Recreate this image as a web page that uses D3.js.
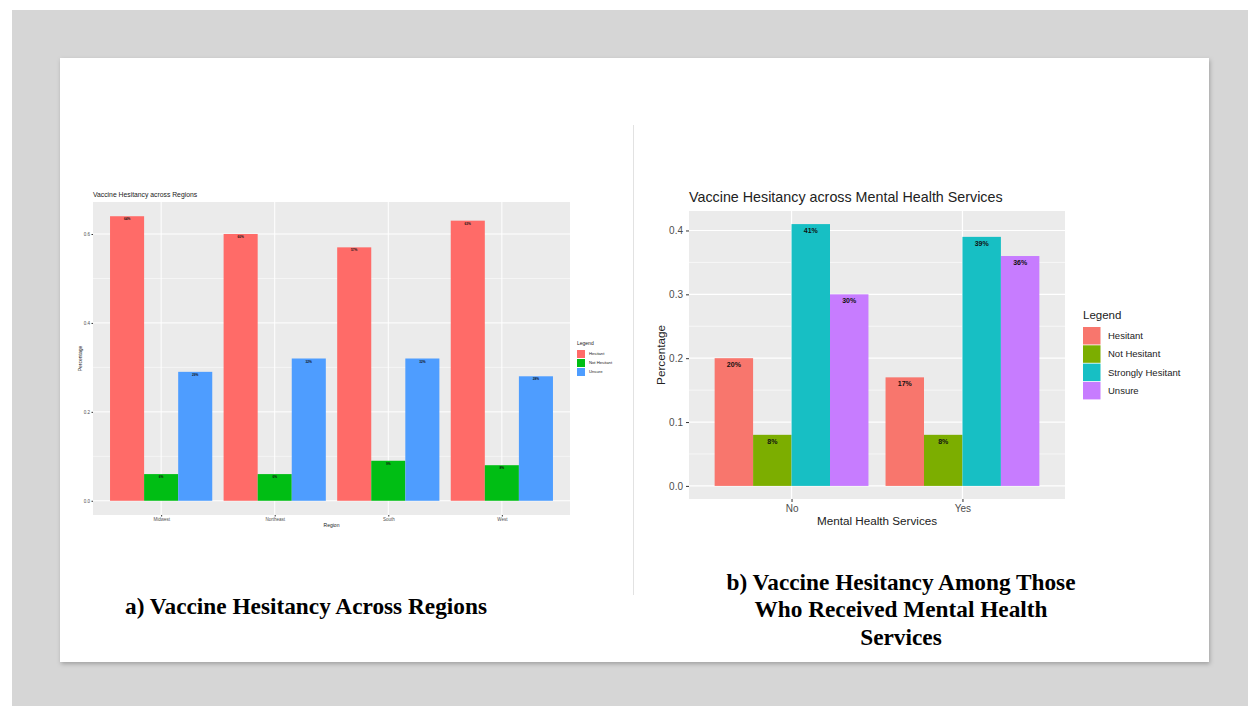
<!DOCTYPE html>
<html><head><meta charset="utf-8">
<script src="https://cdn.jsdelivr.net/npm/d3@7"></script>
<style>html,body{margin:0;padding:0;background:#fff;}svg{display:block;}</style>
</head><body>
<svg id="c" width="1248" height="706"></svg>
<script>
// ---- Data: chart a ----
const regions = ["Midwest", "Northeast", "South", "West"];
const regionSeries = ["Hesitant", "Not Hesitant", "Unsure"];
const regionHesitant = [0.64, 0.60, 0.57, 0.63];
const regionNotHesitant = [0.06, 0.06, 0.09, 0.08];
const regionUnsure = [0.29, 0.32, 0.32, 0.28];
const regionTicks = [0.0, 0.2, 0.4, 0.6];
const regionColors = ["#FF6B68", "#00BE14", "#4E9DFF"];

// ---- Data: chart b ----
const mhCategories = ["No", "Yes"];
const mhSeries = ["Hesitant", "Not Hesitant", "Strongly Hesitant", "Unsure"];
const mhHesitant = [0.20, 0.17];
const mhNotHesitant = [0.08, 0.08];
const mhStrongly = [0.41, 0.39];
const mhUnsure = [0.30, 0.36];
const mhTicks = [0.0, 0.1, 0.2, 0.3, 0.4];
const mhColors = ["#F8766D", "#7CAE00", "#17BFC4", "#C77CFF"];

const svg = d3.select("#c");
// slide background
svg.append("rect").attr("x",0).attr("y",0).attr("width",1248).attr("height",706).attr("fill","#ffffff");
svg.append("rect").attr("x",12).attr("y",10).attr("width",1236).attr("height",696).attr("fill","#d6d6d6");
const defs = svg.append("defs");
const f = defs.append("filter").attr("id","sh").attr("x","-5%").attr("y","-5%").attr("width","110%").attr("height","110%");
f.append("feDropShadow").attr("dx",1).attr("dy",2).attr("stdDeviation",2).attr("flood-color","#000").attr("flood-opacity",0.25);
svg.append("rect").attr("x",60).attr("y",58).attr("width",1149).attr("height",604).attr("fill","#fff").attr("filter","url(#sh)");
svg.append("line").attr("x1",633.5).attr("x2",633.5).attr("y1",125).attr("y2",595).attr("stroke","#e2e2e2").attr("stroke-width",1);

function chart(o){
  const g = svg.append("g");
  const {x0,x1,y0,y1} = o.panel;
  const x = d3.scalePoint().domain(o.cats).range([x0,x1]).padding(0.6);
  const step = x.step();
  const inner = d3.scaleBand().domain(o.series).range([-0.45*step, 0.45*step]);
  const maxV = d3.max(o.values.flat());
  const y = d3.scaleLinear().domain([-0.05*maxV, maxV*1.05]).range([y1,y0]);
  g.append("rect").attr("x",x0).attr("y",y0).attr("width",x1-x0).attr("height",y1-y0).attr("fill","#ebebeb");
  // minor grid
  const minor = [];
  for(let i=0;i<o.ticks.length-1;i++) minor.push((o.ticks[i]+o.ticks[i+1])/2);
  const lastT = o.ticks[o.ticks.length-1], dT = o.ticks[1]-o.ticks[0];
  if (lastT + dT/2 < maxV*1.05) minor.push(lastT + dT/2);
  g.selectAll(null).data(minor).enter().append("line")
    .attr("x1",x0).attr("x2",x1).attr("y1",d=>y(d)).attr("y2",d=>y(d))
    .attr("stroke","#fff").attr("stroke-width",o.gridW*0.5);
  g.selectAll(null).data(o.ticks).enter().append("line")
    .attr("x1",x0).attr("x2",x1).attr("y1",d=>y(d)).attr("y2",d=>y(d))
    .attr("stroke","#fff").attr("stroke-width",o.gridW);
  g.selectAll(null).data(o.cats).enter().append("line")
    .attr("x1",d=>x(d)).attr("x2",d=>x(d)).attr("y1",y0).attr("y2",y1)
    .attr("stroke","#fff").attr("stroke-width",o.gridW);
  // bars
  const recs = [];
  o.cats.forEach((c,ci)=>o.series.forEach((s,si)=>recs.push({c,s,si,v:o.values[si][ci]})));
  g.selectAll(null).data(recs).enter().append("rect")
    .attr("x",d=>x(d.c)+inner(d.s)).attr("width",inner.bandwidth())
    .attr("y",d=>y(d.v)).attr("height",d=>y(0)-y(d.v))
    .attr("fill",d=>o.colors[d.si]);
  g.selectAll(null).data(recs).enter().append("text")
    .attr("x",d=>x(d.c)+inner(d.s)+inner.bandwidth()/2).attr("y",d=>y(d.v)+o.labOff)
    .attr("text-anchor","middle").attr("font-family","Liberation Sans, Arial, sans-serif")
    .attr("font-size",o.labFs).attr("font-weight","bold").attr("fill","#111")
    .text(d=>Math.round(d.v*100)+"%");
  // axes
  const ya = d3.axisLeft(y).tickValues(o.ticks).tickFormat(d3.format(".1f")).tickSize(o.tickLen).tickPadding(o.tickPad);
  const yg = g.append("g").attr("transform",`translate(${x0},0)`).call(ya);
  yg.select(".domain").remove();
  yg.selectAll("line").attr("stroke","#333");
  yg.selectAll("text").attr("font-family","Liberation Sans, Arial, sans-serif").attr("font-size",o.tickFs).attr("fill","#4d4d4d");
  const xa = d3.axisBottom(x).tickSize(o.tickLen).tickPadding(o.tickPad);
  const xg = g.append("g").attr("transform",`translate(0,${y1})`).call(xa);
  xg.select(".domain").remove();
  xg.selectAll("line").attr("stroke","#333");
  xg.selectAll("text").attr("font-family","Liberation Sans, Arial, sans-serif").attr("font-size",o.tickFs).attr("fill","#4d4d4d");
  // titles
  g.append("text").attr("x",x0).attr("y",o.titleY).attr("font-family","Liberation Sans, Arial, sans-serif")
    .attr("font-size",o.titleFs).attr("fill","#222").text(o.title);
  g.append("text").attr("x",(x0+x1)/2).attr("y",o.xlabY).attr("text-anchor","middle")
    .attr("font-family","Liberation Sans, Arial, sans-serif").attr("font-size",o.axFs).attr("fill","#222").text(o.xlab);
  g.append("text").attr("transform",`translate(${o.ylabX},${(y0+y1)/2}) rotate(-90)`).attr("text-anchor","middle")
    .attr("font-family","Liberation Sans, Arial, sans-serif").attr("font-size",o.axFs).attr("fill","#222").text("Percentage");
  // legend
  const L = o.legend;
  g.append("text").attr("x",L.x).attr("y",L.y).attr("font-family","Liberation Sans, Arial, sans-serif")
    .attr("font-size",L.titleFs).attr("fill","#222").text("Legend");
  const li = g.selectAll(null).data(o.series).enter().append("g")
    .attr("transform",(d,i)=>`translate(${L.x},${L.ky + i*L.step})`);
  li.append("rect").attr("x",0).attr("y",0).attr("width",L.key).attr("height",L.key)
    .attr("fill",(d,i)=>o.colors[i]);
  li.append("text").attr("x",L.key+L.gap).attr("y",L.key/2).attr("dy","0.35em")
    .attr("font-family","Liberation Sans, Arial, sans-serif").attr("font-size",L.fs).attr("fill","#222").text(d=>d);
}

chart({
  cats: regions, series: regionSeries,
  values: [regionHesitant, regionNotHesitant, regionUnsure],
  colors: regionColors, ticks: regionTicks,
  panel: {x0:93, x1:570, y0:202, y1:515},
  gridW: 1, labOff: 4, labFs: 3.2, tickLen: 1.5, tickPad: 1.5, tickFs: 4.5,
  title: "Vaccine Hesitancy across Regions", titleY: 197, titleFs: 6.8,
  xlab: "Region", xlabY: 527, axFs: 5, ylabX: 82,
  legend: {x:577, y:345, ky:350, step:9, key:8, gap:4, titleFs:5, fs:4.2}
});

chart({
  cats: mhCategories, series: mhSeries,
  values: [mhHesitant, mhNotHesitant, mhStrongly, mhUnsure],
  colors: mhColors, ticks: mhTicks,
  panel: {x0:689, x1:1065, y0:211, y1:499},
  gridW: 1.2, labOff: 9, labFs: 7, tickLen: 3, tickPad: 3, tickFs: 10,
  title: "Vaccine Hesitancy across Mental Health Services", titleY: 202, titleFs: 14.3,
  xlab: "Mental Health Services", xlabY: 525, axFs: 11.7, ylabX: 665,
  legend: {x:1083, y:319, ky:327, step:18.3, key:17.5, gap:7.5, titleFs:11.5, fs:9.5}
});

// captions
svg.append("text").attr("x",306).attr("y",614).attr("text-anchor","middle")
  .attr("font-family","Liberation Serif, Times New Roman, serif").attr("font-weight","bold")
  .attr("font-size",23.3).attr("fill","#000").text("a) Vaccine Hesitancy Across Regions");
const capB = ["b) Vaccine Hesitancy Among Those", "Who Received Mental Health", "Services"];
svg.selectAll(null).data(capB).enter().append("text")
  .attr("x",901).attr("y",(d,i)=>589.5+i*27.5).attr("text-anchor","middle")
  .attr("font-family","Liberation Serif, Times New Roman, serif").attr("font-weight","bold")
  .attr("font-size",23.3).attr("fill","#000").text(d=>d);
</script>
</body></html>
